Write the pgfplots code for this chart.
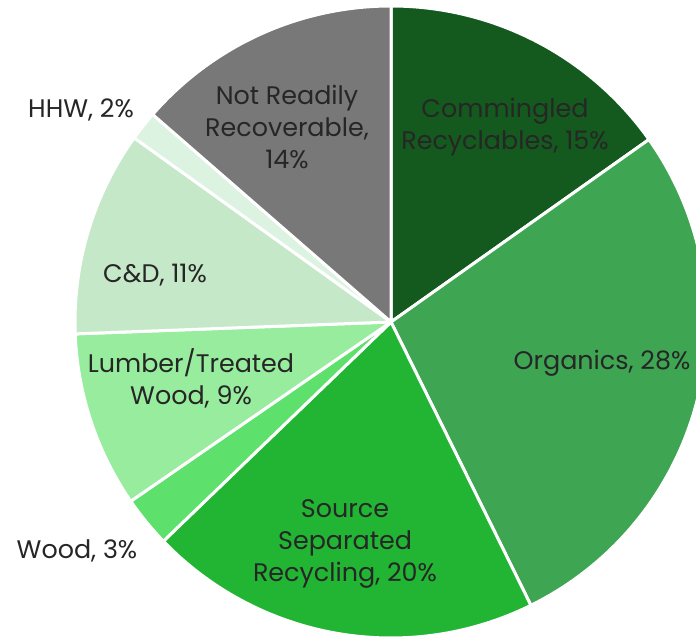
\documentclass[border=0pt]{standalone}
\usepackage{fontspec}
\setmainfont{Poppins}
\usepackage{pgfplots}
\usepackage{pgfplotstable}
\pgfplotsset{compat=1.18}
\definecolor{c0}{RGB}{20,90,30}
\definecolor{c1}{RGB}{62,165,82}
\definecolor{c2}{RGB}{34,181,52}
\definecolor{c3}{RGB}{94,224,108}
\definecolor{c4}{RGB}{151,236,158}
\definecolor{c5}{RGB}{197,232,200}
\definecolor{c6}{RGB}{221,243,226}
\definecolor{c7}{RGB}{120,120,120}
\definecolor{txt}{RGB}{38,38,38}
\pgfplotstableread{
share
15.2
27.5
20.1
2.6
9.0
10.5
1.5
13.6
}\piedata
\begin{document}
\begin{tikzpicture}[x=1bp,y=1bp]
\useasboundingbox (0,0) rectangle (696,637);
\begin{axis}[at={(0,0)},anchor=south west,width=696bp,height=637bp,scale only axis,
  xmin=0,xmax=696,ymin=0,ymax=637,hide axis,clip=true]
\def\startang{90}
\pgfplotsforeachungrouped \i in {0,...,7}{%
  \pgfplotstablegetelem{\i}{share}\of\piedata
  \pgfmathsetmacro\endang{\startang-3.6*\pgfplotsretval}%
  \edef\temp{\noexpand\addplot[fill=c\i, draw=white, line width=3bp, line join=round, domain=\endang:\startang, samples=90] ({391+316*cos(x)},{315+316*sin(x)}) -- (axis cs:391,315) -- cycle;}%
  \temp
  \global\let\startang\endang
}
\tikzset{lbl/.style={font=\fontsize{25.5}{32}\selectfont, align=center, text=txt, inner sep=0pt}}
\node[lbl] at (axis cs:505,510) {Commingled\\Recyclables, 15\%};
\node[lbl] at (axis cs:602,274) {Organics, 28\%};
\node[lbl] at (axis cs:345,93) {Source\\Separated\\Recycling, 20\%};
\node[lbl] at (axis cs:77,86) {Wood, 3\%};
\node[lbl] at (axis cs:191,259) {Lumber/Treated\\Wood, 9\%};
\node[lbl] at (axis cs:155,362) {C\&D, 11\%};
\node[lbl] at (axis cs:81,527) {HHW, 2\%};
\node[lbl] at (axis cs:287,510) {Not Readily\\Recoverable,\\14\%};
\end{axis}
\end{tikzpicture}
\end{document}
